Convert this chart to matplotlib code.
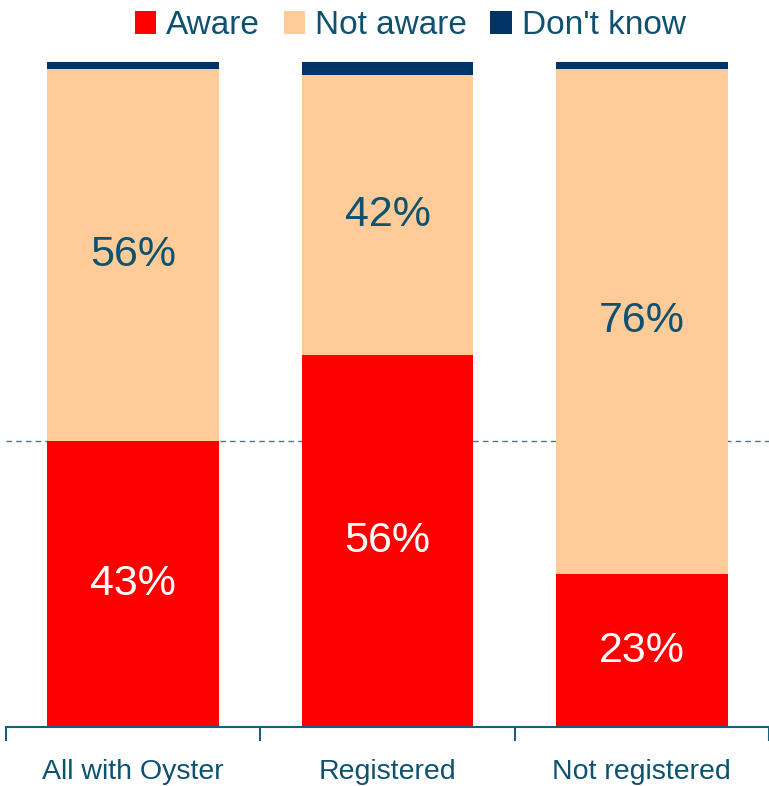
import matplotlib.pyplot as plt
import numpy as np

plt.rcParams['font.family'] = ['Liberation Sans', 'DejaVu Sans']

groups = ['All with Oyster', 'Registered', 'Not registered']
aware = [43, 56, 23]
not_aware = [56, 42, 76]
dont_know = [1, 2, 1]
reference = 43

red = '#FF0000'
peach = '#FFCC99'
navy = '#003366'
ink = '#0E5270'
axis_col = '#1A5F7A'

fig = plt.figure(figsize=(7.69, 7.86), dpi=100)
ax = fig.add_axes([0.0078, 0.075, 0.9922, 0.846])

x = np.arange(len(groups))
w = 0.675
ax.bar(x, aware, w, color=red, label='Aware')
ax.bar(x, not_aware, w, bottom=aware, color=peach, label='Not aware')
ax.bar(x, dont_know, w, bottom=np.add(aware, not_aware), color=navy, label="Don't know")

for i in range(len(groups)):
    ax.text(x[i], aware[i] / 2, f'{aware[i]}%', ha='center', va='center',
            color='white', fontsize=31)
    ax.text(x[i], aware[i] + not_aware[i] / 2, f'{not_aware[i]}%', ha='center',
            va='center', color=ink, fontsize=31)

ax.axhline(reference, color='#4F7686', lw=1, ls=(0, (4, 3)), zorder=0)

ax.set_xlim(-0.5, 2.5)
ax.set_ylim(0, 100)
for s in ['top', 'right', 'left']:
    ax.spines[s].set_visible(False)
ax.spines['bottom'].set_color(axis_col)
ax.spines['bottom'].set_linewidth(1.5)
ax.set_yticks([])

# category boundaries carry the ticks, labels sit under the bars
ax.set_xticks([-0.5, 0.5, 1.5, 2.5])
ax.set_xticklabels([])
ax.tick_params(axis='x', length=10, width=1.5, color=axis_col, direction='out')
ax.set_xticks(x, minor=True)
ax.set_xticklabels(groups, minor=True, fontsize=20.5, color=ink)
ax.tick_params(axis='x', which='minor', length=0, pad=23)

ax.legend(loc='upper center', bbox_to_anchor=(0.53, 1.123), ncol=3, frameon=False,
          fontsize=24, handlelength=0.65, handleheight=0.65, handletextpad=0.3,
          columnspacing=0.7, labelcolor=ink)

fig.savefig('out.png', dpi=100)
